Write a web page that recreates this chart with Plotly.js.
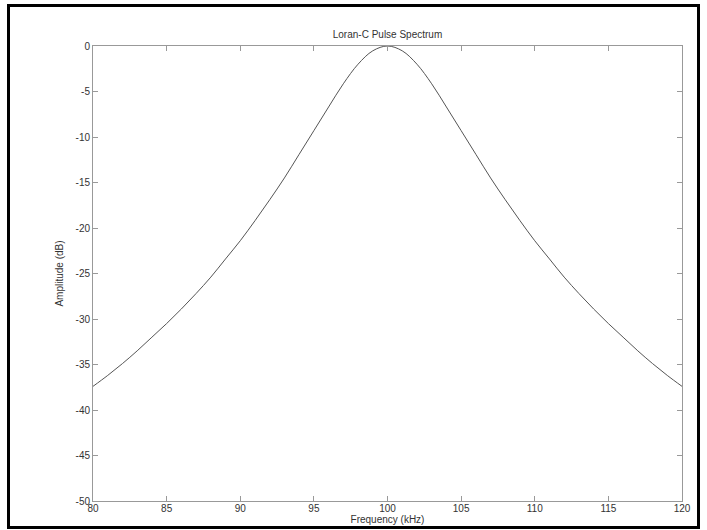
<!DOCTYPE html>
<html>
<head>
<meta charset="utf-8">
<script src="https://cdn.plot.ly/plotly-3.0.1.min.js"></script>
<style>
  html, body { margin: 0; padding: 0; background: #fff; }
  #wrap { position: relative; width: 707px; height: 530px; overflow: hidden; }
  #chart { position: absolute; left: 0; top: 0; width: 707px; height: 530px; }
  #frame { position: absolute; left: 7px; top: 4px; width: 693px; height: 525px;
           border: 3px solid #000; box-sizing: border-box; pointer-events: none; }
</style>
</head>
<body>
<div id="wrap">
  <div id="chart"></div>
  <div id="frame"></div>
</div>
<script>
// Frequency (kHz)
const frequency = [80,81,82,83,84,85,86,87,88,89,90,91,92,93,94,95,96,97,98,99,100,
                   101,102,103,104,105,106,107,108,109,110,111,112,113,114,115,116,117,118,119,120];
// Amplitude (dB)
const amplitude = [-37.4,-36.2,-34.9,-33.5,-32.0,-30.5,-28.9,-27.2,-25.4,-23.4,-21.4,
                   -19.2,-16.9,-14.5,-11.9,-9.3,-6.7,-4.15,-2.0,-0.53,0,
                   -0.53,-2.0,-4.15,-6.7,-9.3,-11.9,-14.5,-16.9,-19.2,-21.4,
                   -23.4,-25.4,-27.2,-28.9,-30.5,-32.0,-33.5,-34.9,-36.2,-37.4];
const xTicks = [80,85,90,95,100,105,110,115,120];
const yTicks = [0,-5,-10,-15,-20,-25,-30,-35,-40,-45,-50];

const trace = {
  x: frequency, y: amplitude, type: 'scatter', mode: 'lines',
  line: {color: '#555', width: 1, shape: 'spline'}, hoverinfo: 'skip'
};

const FONT = 'Liberation Sans, Arial, sans-serif';
const axisCommon = {
  showline: true, linecolor: '#999', linewidth: 1, mirror: 'ticks',
  ticks: 'inside', ticklen: 5, tickcolor: '#999', tickwidth: 1,
  showgrid: false, zeroline: false,
  tickfont: {family: FONT, size: 10, color: '#333'}
};

const layout = {
  width: 707, height: 530,
  margin: {l: 93, r: 25, t: 46, b: 29},
  paper_bgcolor: '#fff', plot_bgcolor: '#fff',
  showlegend: false,
  title: {text: 'Loran-C Pulse Spectrum', x: 0.5, xanchor: 'center', xref: 'paper',
          y: 1, yref: 'paper', yanchor: 'bottom', pad: {b: 8},
          font: {family: FONT, size: 10, color: '#333'}},
  xaxis: Object.assign({}, axisCommon, {
    range: [80, 120], tickvals: xTicks, ticktext: xTicks.map(String),
    ticklabelstandoff: -2,
    title: {text: 'Frequency (kHz)', standoff: 0,
            font: {family: FONT, size: 10, color: '#333'}}
  }),
  yaxis: Object.assign({}, axisCommon, {
    range: [-50, 0], tickvals: yTicks, ticktext: yTicks.map(String),
    title: {text: 'Amplitude (dB)', standoff: 10,
            font: {family: FONT, size: 10, color: '#333'}}
  })
};

Plotly.newPlot('chart', [trace], layout, {staticPlot: true, displayModeBar: false});
</script>
</body>
</html>
